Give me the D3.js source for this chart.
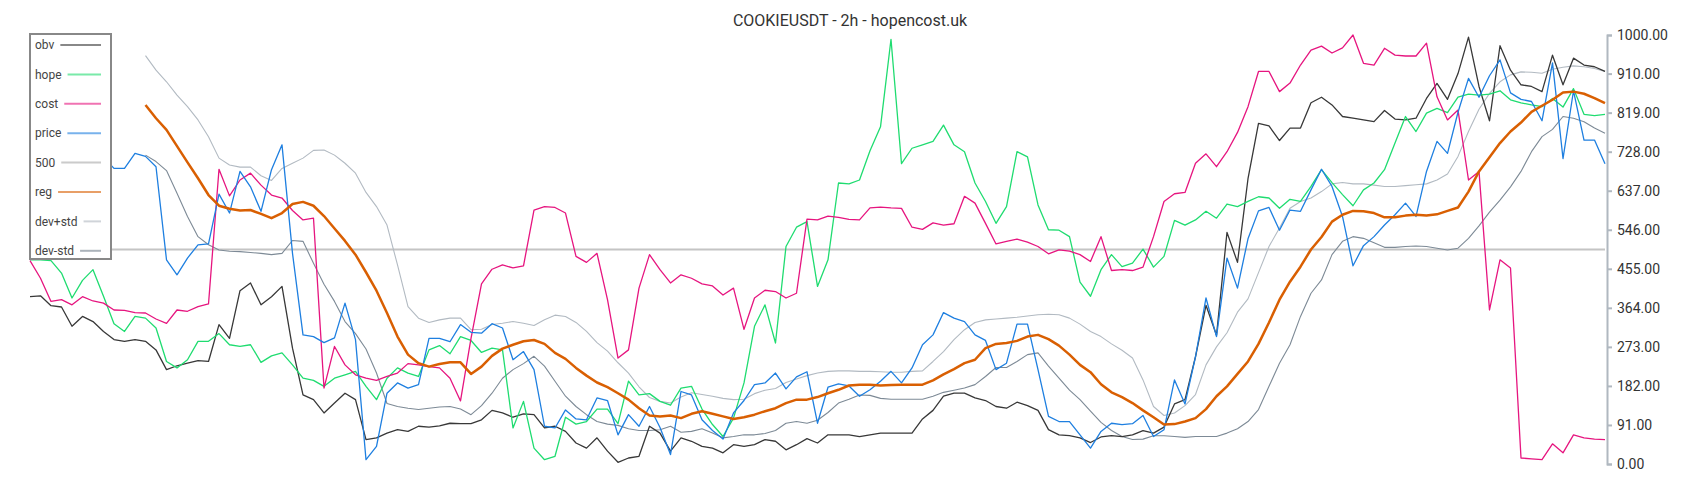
<!DOCTYPE html>
<html>
<head>
<meta charset="utf-8">
<script src="https://cdn.jsdelivr.net/npm/d3@7"></script>
<style>
  html, body { margin: 0; padding: 0; background: #fff; }
  #grafico { width: 1700px; height: 500px; }
  text { font-family: Roboto, "Noto Sans", sans-serif; }
</style>
</head>
<body>
<div id="grafico"></div>
<script>
// titulo y etiquetas
var titulo = "COOKIEUSDT - 2h - hopencost.uk";
var etiquetas = ["obv", "hope", "cost", "price", "500", "reg", "dev+std", "dev-std"];
var ticks_y = [0, 91, 182, 273, 364, 455, 546, 637, 728, 819, 910, 1000];
var nivel = 500;

// series (151 puntos)
var obv = [390,392,369,366,321,344,332,309,290,286,290,
  286,266,220,229,235,241,239,325,293,404,
  422,371,390,414,270,161,150,119,142,165,
  150,57,61,72,80,76,88,86,89,95,
  94,94,103,125,119,109,117,115,84,88,
  76,49,37,61,30,4,14,18,88,72,
  30,61,53,41,37,26,45,41,45,57,
  53,33,45,59,49,68,68,68,64,68,
  72,72,72,72,105,125,158,165,165,154,
  148,134,130,144,136,125,80,68,66,61,
  50,63,66,64,68,78,72,86,140,150,
  250,370,300,540,470,665,794,788,754,783,
  783,842,855,837,810,806,802,798,824,804,
  802,806,852,887,850,910,995,880,800,975,
  918,884,880,868,953,884,946,930,926,915];

var hope = [476,476,474,445,387,428,453,391,327,309,344,
  340,317,239,224,243,286,286,304,278,274,
  278,237,252,259,231,200,195,181,200,208,
  216,181,150,200,224,212,204,266,276,257,
  297,288,260,270,266,84,146,37,10,18,
  109,93,99,128,128,94,193,161,164,146,
  137,177,181,128,92,64,107,189,321,371,
  282,507,552,565,414,476,655,653,662,730,
  786,990,700,736,744,752,790,744,728,655,
  612,561,600,728,716,604,546,545,530,424,
  391,453,488,460,468,501,459,484,568,557,
  569,589,573,606,600,612,623,620,596,617,
  612,647,686,656,628,602,639,655,686,748,
  810,775,818,829,819,855,862,860,862,870,
  849,842,837,833,852,832,875,815,812,815];

var cost = [474,433,379,383,371,390,380,375,359,358,353,
  352,338,328,359,356,367,373,687,625,662,
  678,650,627,620,591,569,573,177,274,231,
  208,200,195,204,212,234,231,227,224,200,
  147,293,420,454,464,457,462,592,600,598,
  585,484,470,491,383,247,266,410,488,453,
  422,441,433,420,415,394,410,314,387,405,
  402,387,398,571,569,578,575,570,569,597,
  599,597,596,552,547,562,557,560,624,608,
  561,513,519,524,517,507,490,499,496,488,
  472,530,451,453,451,459,530,612,630,633,
  701,723,693,728,773,833,915,915,868,888,
  930,965,974,958,970,1000,934,930,969,953,
  951,951,981,856,802,825,662,682,359,476,
  457,14,12,10,47,26,68,61,58,57];

var price = [995,960,900,840,790,760,735,715,689,689,724,
  717,693,476,441,480,511,513,629,585,682,
  646,589,686,744,491,301,297,283,294,375,
  290,10,41,165,189,177,185,293,293,285,
  325,307,305,327,317,243,262,220,88,84,
  126,105,103,154,148,68,115,88,134,85,
  22,169,161,103,78,58,119,148,185,189,
  212,175,203,215,95,179,187,182,158,173,
  193,216,189,224,278,301,353,340,332,301,
  288,220,235,326,326,220,111,99,99,68,
  37,76,95,92,94,113,64,80,196,140,
  250,387,297,480,410,525,590,598,545,592,
  589,639,687,647,577,462,509,530,557,581,
  608,577,682,752,724,820,899,855,905,942,
  865,850,845,800,935,712,870,755,755,700];

var reg = [null,null,null,null,null,null,null,null,null,null,null,
  837,806,779,741,703,666,627,602,595,591,
  592,583,573,585,606,611,602,578,549,520,
  488,447,404,352,297,255,235,227,233,237,
  237,210,227,252,269,278,286,289,280,259,
  245,224,206,190,179,165,150,130,113,111,
  113,107,117,123,117,111,105,109,115,123,
  130,142,150,150,156,165,173,183,185,185,
  183,184,185,185,185,195,209,221,235,243,
  270,280,282,287,297,301,291,276,255,231,
  214,186,167,156,142,125,109,92,93,99,
  107,128,158,181,210,239,280,330,383,425,
  460,500,529,565,581,590,589,585,575,575,
  579,581,579,582,590,598,635,682,715,748,
  775,796,821,835,849,866,868,863,853,841];

var dev_mas = [null,null,null,null,null,null,null,null,null,null,null,
  952,918,891,860,833,802,763,713,697,692,
  692,672,661,689,701,713,731,732,720,701,
  678,633,600,557,464,367,340,330,336,340,
  340,313,314,325,328,332,328,323,336,347,
  344,330,309,283,263,236,212,180,155,146,
  142,156,166,162,158,153,150,151,164,172,
  176,190,198,206,212,216,217,217,216,216,
  215,214,214,216,217,239,262,290,313,330,
  336,338,340,342,345,348,349,348,340,326,
  309,297,280,265,247,196,134,113,119,136,
  162,231,273,306,354,385,446,507,550,596,
  612,620,635,653,656,653,653,650,647,647,
  649,651,653,662,676,717,775,827,864,891,
  907,914,913,911,920,925,928,926,922,915];

var dev_menos = [null,null,null,null,null,null,null,null,null,null,null,
  720,705,684,631,577,530,511,499,496,495,
  493,491,488,491,521,519,468,419,379,332,
  304,268,212,141,134,130,127,130,133,134,
  128,115,136,165,200,220,234,251,228,193,
  158,134,115,99,93,90,82,78,78,80,
  88,74,76,82,72,61,64,68,68,71,
  78,95,99,95,102,120,142,151,161,160,
  153,151,151,151,151,158,167,172,177,185,
  204,225,225,239,255,259,228,200,172,150,
  123,97,78,64,57,58,66,66,64,62,
  64,64,64,72,82,99,127,181,235,278,
  344,398,429,488,519,530,526,516,505,505,
  507,508,507,503,499,503,526,555,587,615,
  646,682,728,763,780,810,806,798,783,771];

contenedor = document.getElementById('grafico');

function dibujar(container, props) {
  var margin = {top: 35, right: 95, bottom: 36, left: 30};
  var width = props.width - margin.left - margin.right;
  var height = props.height - margin.top - margin.bottom;

  let svg = container.selectAll('svg').data([null]);
  svg = svg.enter().append('svg')
    .merge(svg)
      .attr('width', props.width)
      .attr('height', props.height);
  svg.selectAll('*').remove();

  var g = svg.append('g')
    .attr('transform', 'translate(' + margin.left + ',' + margin.top + ')');

  // escalas
  var indices = d3.range(obv.length);
  const xScale = d3.scaleLinear()
    .domain([0, obv.length - 1])
    .range([0, width]);
  const yScale = d3.scaleLinear()
    .domain([0, 1000])
    .range([height, 0]);

  // titulo
  svg.append('text')
    .attr('x', 850)
    .attr('y', 26)
    .attr('text-anchor', 'middle')
    .style('font-size', '16px')
    .style('fill', '#333')
    .text(titulo);

  // linea del 500
  g.append('line')
    .attr('x1', xScale(0))
    .attr('x2', xScale(obv.length - 1))
    .attr('y1', yScale(nivel))
    .attr('y2', yScale(nivel))
    .style('stroke', '#c4c4c4')
    .style('stroke-width', 2);

  // series
  var series = [
    {nombre: "dev+std", datos: dev_mas, color: "#b2bac2", ancho: 1.1},
    {nombre: "dev-std", datos: dev_menos, color: "#7d8a96", ancho: 1.1},
    {nombre: "obv", datos: obv, color: "#383838", ancho: 1.3},
    {nombre: "hope", datos: hope, color: "#1fdc70", ancho: 1.3},
    {nombre: "cost", datos: cost, color: "#e6157f", ancho: 1.3},
    {nombre: "price", datos: price, color: "#1e7fe0", ancho: 1.3},
    {nombre: "reg", datos: reg, color: "#d95f02", ancho: 2.5}
  ];

  var linea = d3.line()
    .defined(function(d) { return d[1] != null; })
    .x(function(d) { return xScale(d[0]); })
    .y(function(d) { return yScale(d[1]); });

  g.selectAll('.serie')
    .data(series)
    .enter().append('path')
      .attr('class', 'serie')
      .attr('d', function(s) { return linea(indices.map(function(i) { return [i, s.datos[i]]; })); })
      .style('fill', 'none')
      .style('stroke', function(s) { return s.color; })
      .style('stroke-width', function(s) { return s.ancho; })
      .style('stroke-linejoin', 'round');

  // eje Y a la derecha
  const yAxis = d3.axisRight(yScale)
    .tickValues(ticks_y)
    .tickFormat(d3.format('.2f'))
    .tickSize(5)
    .tickPadding(5);
  var yAxisG = g.append('g')
    .attr('transform', 'translate(' + (width + 2) + ',0)')
    .call(yAxis);
  yAxisG.select('.domain').style('stroke', '#b0b8c0').style('stroke-width', 2);
  yAxisG.selectAll('.tick line').style('stroke', '#b0b8c0').style('stroke-width', 2);
  yAxisG.selectAll('.tick text')
    .style('font-size', '14px')
    .style('fill', '#333')
    .style('font-family', 'Roboto, sans-serif');

  // leyenda
  var colores = {"obv": "#383838", "hope": "#1fdc70", "cost": "#e6157f", "price": "#1e7fe0",
    "500": "#a8a8a8", "reg": "#d95f02", "dev+std": "#b0b8c0", "dev-std": "#73808c"};
  var legend = svg.append('g').attr('class', 'legend');
  legend.append('rect')
    .attr('x', 30)
    .attr('y', 34)
    .attr('width', 81)
    .attr('height', 225)
    .style('fill', '#fff')
    .style('stroke', '#888')
    .style('stroke-width', 2);

  var filas = legend.selectAll('.fila')
    .data(etiquetas)
    .enter().append('g')
      .attr('class', 'fila')
      .attr('transform', function(d, i) { return 'translate(0,' + (45 + i * 29.4) + ')'; });
  filas.append('text')
    .attr('x', 35)
    .attr('y', 0)
    .attr('dy', '0.35em')
    .style('font-size', '12px')
    .style('fill', '#444')
    .text(function(d) { return d; });
  filas.each(function(d) {
    var fila = d3.select(this);
    var w = fila.select('text').node().getComputedTextLength();
    fila.append('line')
      .attr('x1', 35 + w + 6)
      .attr('x2', 101)
      .attr('y1', 0)
      .attr('y2', 0)
      .style('stroke', colores[d])
      .style('stroke-opacity', 0.6)
      .style('stroke-width', 2);
  });
}

function render() {
  dibujar(d3.select('#grafico'), {
    width: contenedor.clientWidth,
    height: contenedor.clientHeight
  });
}

render();
window.addEventListener('resize', render);
</script>
</body>
</html>
